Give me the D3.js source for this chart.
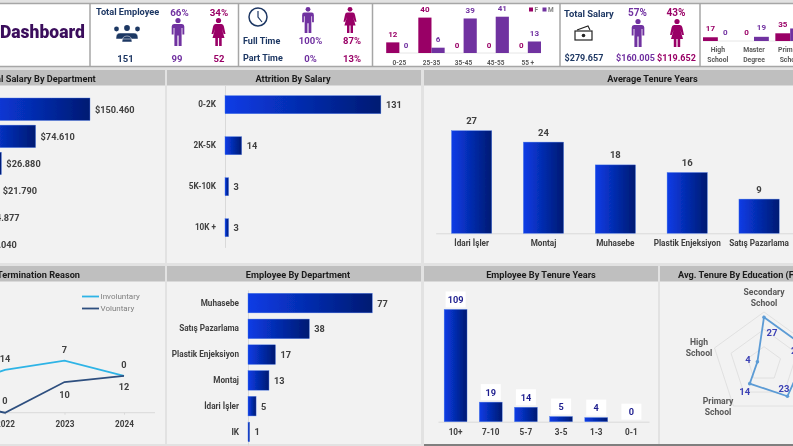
<!DOCTYPE html>
<html>
<head>
<meta charset="utf-8">
<script src="https://cdn.jsdelivr.net/npm/d3@7"></script>
<style>
  html, body { margin: 0; padding: 0; background: #e2e2e2; overflow: hidden; }
  svg { display: block; }
  text { font-family: Roboto, sans-serif; font-weight: 700; }
  .axis .domain { stroke: #d9d9d9; }
  .axis text { fill: #404040; font-size: 8.2px; font-family: Roboto, sans-serif; }
</style>
</head>
<body>
<svg id="grafico" width="793" height="446"></svg>
<script>
// Datos
const departamentosSalario = ["Muhasebe", "Satış Pazarlama", "Plastik Enjeksiyon", "Montaj", "İdari İşler", "IK"];
const salarioDepartamento = [150460, 74610, 26880, 21790, 4877, 1040];
const rangosSalario = ["0-2K", "2K-5K", "5K-10K", "10K +"];
const bajasSalario = [131, 14, 3, 3];
const departamentosTenure = ["İdari İşler", "Montaj", "Muhasebe", "Plastik Enjeksiyon", "Satış Pazarlama"];
const tenureMedio = [27, 24, 18, 16, 9];
const anos = ["2021", "2022", "2023", "2024"];
const voluntary = [4, 0, 10, 12];
const involuntary = [3, 14, 7, 0];
const departamentosEmpleados = ["Muhasebe", "Satış Pazarlama", "Plastik Enjeksiyon", "Montaj", "İdari İşler", "IK"];
const empleadosDepartamento = [77, 38, 17, 13, 5, 1];
const rangosTenure = ["10+", "7-10", "5-7", "3-5", "1-3", "0-1"];
const empleadosTenure = [109, 19, 14, 5, 4, 0];
const educacionRadar = ["Secondary School", "University", "Master Degree", "Primary School", "High School"];
const tenureEducacion = [27, 27, 23, 14, 4];
const rangosEdad = ["0-25", "25-35", "35-45", "45-55", "55 +"];
const edadF = [12, 40, 0, 0, 0];
const edadM = [0, 6, 39, 41, 13];
const educacion = ["High School", "Master Degree", "Primary School"];
const educacionF = [17, 0, 35];
const educacionM = [0, 19, 57];

const NAVY = "#1f3864", PURPLE = "#7030a0", MAGENTA = "#990066", GRIS = "#404040";
const svg = d3.select("#grafico");

// Degradado de las barras
const defs = svg.append("defs");
const grad = defs.append("linearGradient").attr("id", "azul");
grad.append("stop").attr("offset", "0%").attr("stop-color", "#0a3ce6");
grad.append("stop").attr("offset", "100%").attr("stop-color", "#001a72");
const blur = defs.append("filter").attr("id", "suave");
blur.append("feGaussianBlur").attr("stdDeviation", 0.35);

const raiz = svg.append("g").attr("filter", "url(#suave)");

function texto(g, x, y, t, color, size, anchor) {
    return g.append("text")
        .attr("x", x).attr("y", y)
        .attr("text-anchor", anchor || "middle")
        .attr("dominant-baseline", "central")
        .attr("fill", color)
        .style("font-size", size + "px")
        .text(t);
}

// Paneles
function panel(x, y, w, h, titulo, tx, anchor) {
    raiz.append("rect").attr("x", x).attr("y", y).attr("width", w).attr("height", h).attr("fill", "#f2f2f2");
    raiz.append("rect").attr("x", x).attr("y", y).attr("width", w).attr("height", 15.5).attr("fill", "#bfbfbf");
    texto(raiz, tx, y + 8, titulo, "#1a1a1a", 9.2, anchor);
}
raiz.append("rect").attr("width", 793).attr("height", 446).attr("fill", "#e2e2e2");
panel(-40, 70, 205, 193, "Total Salary By Department", 95.7, "end");
panel(167, 70, 254, 193, "Attrition By Salary", 293);
panel(424, 70, 372, 193, "Average Tenure Years", 652.5);
panel(-40, 266, 205, 178, "Attrition By Termination Reason", 80, "end");
panel(167, 266, 254, 178, "Employee By Department", 298);
panel(424, 266, 234, 178, "Employee By Tenure Years", 541);
panel(660, 266, 136, 178, "Avg. Tenure By Education (Female)", 678, "start");
raiz.append("rect").attr("x", 424).attr("y", 444).attr("width", 369).attr("height", 2).attr("fill", "#7f7f7f");

// Tarjetas superiores
raiz.append("rect").attr("x", -2).attr("y", 3.5).attr("width", 797).attr("height", 63)
    .attr("fill", "#fff").attr("stroke", "#a6a6a6").attr("stroke-width", 1.5);
[90, 238.5, 372.5, 560, 700].forEach(x => {
    raiz.append("line").attr("x1", x).attr("x2", x).attr("y1", 3.5).attr("y2", 66.5)
        .attr("stroke", "#a6a6a6").attr("stroke-width", 1.5);
});

// Iconos
function hombre(x, y, s, color) {
    const g = raiz.append("g").attr("transform", `translate(${x},${y}) scale(${s})`).attr("fill", color);
    g.append("circle").attr("cx", 0).attr("cy", -11.5).attr("r", 2.6);
    g.append("path").attr("d", "M-4-8H4Q6.3-8 6.3-5.5V2.5H4.4V-4H3.6V14H.6V3.5H-.6V14H-3.6V-4H-4.4V2.5H-6.3V-5.5Q-6.3-8-4-8Z");
}
function mujer(x, y, s, color) {
    const g = raiz.append("g").attr("transform", `translate(${x},${y}) scale(${s})`).attr("fill", color);
    g.append("circle").attr("cx", 0).attr("cy", -11.5).attr("r", 2.6);
    g.append("path").attr("d", "M-3-8H3Q5-8 5.4-5.5L7 2H5.2L3.4-3 6 6H3.2V14H.6V6H-.6V14H-3.2V6H-6L-3.4-3-5.2 2H-7L-5.4-5.5Q-5-8-3-8Z");
}
hombre(178, 32, 1, PURPLE);
mujer(218.5, 32, 1, MAGENTA);
hombre(308, 20, .93, PURPLE);
mujer(350, 20, .93, MAGENTA);
hombre(638, 33, 1, PURPLE);
mujer(677, 33, 1, MAGENTA);

// Icono de personas
[[127, 28, 3.6], [116.5, 29, 3], [137.5, 29, 3]].forEach(p => {
    raiz.append("circle").attr("cx", p[0]).attr("cy", p[1]).attr("r", p[2] * .8).attr("fill", NAVY);
});
raiz.append("path").attr("fill", NAVY).attr("d", "M116 38Q116 33 120 33H134Q138 33 138 38V39H116ZM122 42Q122 36 127 36T132 42Z").attr("stroke", "#fff").attr("stroke-width", .5);

// Icono del reloj
raiz.append("circle").attr("cx", 258).attr("cy", 17).attr("r", 9).attr("fill", "none").attr("stroke", NAVY).attr("stroke-width", 1.5);
raiz.append("path").attr("d", "M258 11V17L262 22").attr("fill", "none").attr("stroke", NAVY).attr("stroke-width", 1.2);

// Icono del dinero
raiz.append("rect").attr("x", 575).attr("y", 31).attr("width", 17).attr("height", 9).attr("fill", "#fff").attr("stroke", "#222").attr("stroke-width", 1.2);
raiz.append("circle").attr("cx", 583.5).attr("cy", 35.5).attr("r", 1.8).attr("fill", "#222");
raiz.append("path").attr("d", "M577 30L588 26L590 30").attr("fill", "none").attr("stroke", "#222").attr("stroke-width", 1.1);

// Textos de las tarjetas
texto(raiz, 0, 31.5, "Dashboard", "#3b0f5c", 17.5, "start").style("font-weight", 900);
texto(raiz, 96, 11.5, "Total Employee", NAVY, 9.2, "start");
texto(raiz, 179.5, 12, "66%", PURPLE, 9.8);
texto(raiz, 219, 12, "34%", MAGENTA, 9.8);
texto(raiz, 125.5, 58, "151", NAVY, 9.5);
texto(raiz, 177, 58, "99", PURPLE, 9.5);
texto(raiz, 219, 58, "52", MAGENTA, 9.5);
texto(raiz, 243, 41, "Full Time", NAVY, 9, "start");
texto(raiz, 243, 58, "Part Time", NAVY, 9, "start");
texto(raiz, 310.5, 40.5, "100%", PURPLE, 9.5);
texto(raiz, 352, 40.5, "87%", MAGENTA, 9.5);
texto(raiz, 310.5, 58.5, "0%", PURPLE, 9.5);
texto(raiz, 352, 58.5, "13%", MAGENTA, 9.5);
texto(raiz, 564, 13.5, "Total Salary", NAVY, 9.4, "start");
texto(raiz, 637.5, 12, "57%", PURPLE, 10);
texto(raiz, 676, 12, "43%", MAGENTA, 10);
texto(raiz, 584, 58, "$279.657", NAVY, 9);
texto(raiz, 635.5, 58, "$160.005", PURPLE, 9);
texto(raiz, 676.5, 58, "$119.652", MAGENTA, 9);

// Leyenda F / M
raiz.append("rect").attr("x", 529).attr("y", 7.5).attr("width", 4).attr("height", 4).attr("fill", MAGENTA);
texto(raiz, 534.5, 9.5, "F", "#808080", 6.5, "start");
raiz.append("rect").attr("x", 542.5).attr("y", 7.5).attr("width", 4).attr("height", 4).attr("fill", PURPLE);
texto(raiz, 548, 9.5, "M", "#808080", 6.5, "start");

// Columnas agrupadas de la tarjeta superior
function columnasDobles(cats, f, m, rango, base, esc, sep) {
    const x = d3.scaleBand().domain(cats).range(rango).paddingInner(.18);
    const g = raiz.append("g");
    const y = d3.scaleLinear().domain([0, 1]).range([base, base - esc]);
    g.append("line").attr("x1", rango[0]).attr("x2", rango[1]).attr("y1", base).attr("y2", base).attr("stroke", "#e6e6e6");
    [[f, MAGENTA, 0], [m, PURPLE, 1]].forEach(s => {
        const bw = x.bandwidth() / 2;
        s[0].forEach((v, i) => {
            const px = x(cats[i]) + s[2] * bw;
            g.append("rect").attr("x", px).attr("width", bw).attr("y", y(v)).attr("height", base - y(v)).attr("fill", s[1]);
            texto(g, px + bw / 2, y(v) - sep, v, s[1], 8);
        });
    });
    return x;
}
const xEdad = columnasDobles(rangosEdad, edadF, edadM, [386.2, 541], 53, .885, 8);
rangosEdad.forEach(c => texto(raiz, xEdad(c) + xEdad.bandwidth() / 2, 62.5, c, "#595959", 6.5));

const xEdu = columnasDobles(educacion, educacionF, educacionM, [703, 805], 41, .22, 9);
educacion.forEach(c => {
    const pal = c.split(" ");
    texto(raiz, xEdu(c) + xEdu.bandwidth() / 2, 50, pal[0], "#595959", 6.8);
    texto(raiz, xEdu(c) + xEdu.bandwidth() / 2, 59.5, pal[1], "#595959", 6.8);
});

// Barras horizontales
function barrasH(g, cats, vals, x0, esc, y0, y1, fmt, conEje, pi, po) {
    const y = d3.scaleBand().domain(cats).range([y0, y1]).paddingInner(pi).paddingOuter(po);
    const x = d3.scaleLinear().domain([0, 1]).range([x0, x0 + esc]);
    if (conEje) {
        g.append("g").attr("class", "axis").attr("transform", `translate(${x0},0)`)
            .call(d3.axisLeft(y).tickSize(0).tickPadding(9));
    }
    g.selectAll(null).data(vals).enter().append("rect")
        .attr("x", x0).attr("y", (d, i) => y(cats[i]))
        .attr("width", d => x(d) - x0).attr("height", y.bandwidth())
        .attr("fill", "url(#azul)").attr("stroke", "#4a78e8").attr("stroke-width", .4);
    vals.forEach((v, i) => {
        texto(g, x(v) + 5, y(cats[i]) + y.bandwidth() / 2, fmt(v), GRIS, 9.2, "start");
    });
}
const dolar = v => "$" + d3.format(",")(v).replace(/,/g, ".");
barrasH(raiz, departamentosSalario, salarioDepartamento, -17.9, .000717, 96, 258, dolar, false, .17, .074);
barrasH(raiz, rangosSalario, bajasSalario, 225, 1.19, 85, 247.4, d => d, true, .56, .26);
barrasH(raiz, departamentosEmpleados, empleadosDepartamento, 248, 1.614, 290, 445, d => d, true, .24, .128);

// Columnas
function columnas(cats, vals, rango, base, esc, padding, eje) {
    const x = d3.scaleBand().domain(cats).range(rango).paddingInner(padding).paddingOuter(padding / 2);
    const y = d3.scaleLinear().domain([0, 1]).range([base, base - esc]);
    raiz.append("g").attr("class", "axis").attr("transform", `translate(0,${base})`)
        .call(d3.axisBottom(x).tickSize(0).tickPadding(eje));
    const g = raiz.append("g");
    g.selectAll(null).data(vals).enter().append("rect")
        .attr("x", (d, i) => x(cats[i])).attr("width", x.bandwidth())
        .attr("y", d => y(d)).attr("height", d => base - y(d))
        .attr("fill", "url(#azul)").attr("stroke", "#4a78e8").attr("stroke-width", .4);
    return { x, y, g };
}
const media = columnas(departamentosTenure, tenureMedio, [435.7, 795], 233.3, 3.8, .44, 7);
tenureMedio.forEach((v, i) => {
    texto(media.g, media.x(departamentosTenure[i]) + media.x.bandwidth() / 2, media.y(v) - 10, v, GRIS, 9.5);
});
const ten = columnas(rangosTenure, empleadosTenure, [438, 649], 421.7, 1.03, .35, 7);
empleadosTenure.forEach((v, i) => {
    const cx = ten.x(rangosTenure[i]) + ten.x.bandwidth() / 2;
    const cy = ten.y(v) - 10;
    ten.g.append("rect").attr("x", cx - 10).attr("y", cy - 8).attr("width", 20).attr("height", 16).attr("fill", "#fff");
    texto(ten.g, cx, cy, v, "#1f1f8f", 9.2);
});

// Lineas apiladas
const xLin = d3.scalePoint().domain(anos).range([-54.5, 124]);
const yLin = d3.scaleLinear().domain([0, 17]).range([412.7, 360.6]);
raiz.append("g").attr("class", "axis").attr("transform", "translate(0,412.7)")
    .call(d3.axisBottom(xLin).tickSize(2).tickPadding(6))
    .call(g => g.select(".domain").attr("d", "M-60 0H155"))
    .call(g => g.selectAll("line").attr("stroke", "#d9d9d9"));
const apilado = involuntary.map((d, i) => d + voluntary[i]);
const linea = d3.line().x((d, i) => xLin(anos[i])).y(d => yLin(d));
raiz.append("path").attr("d", linea(apilado)).attr("fill", "none").attr("stroke", "#2fb4e6").attr("stroke-width", 1.8);
raiz.append("path").attr("d", linea(voluntary)).attr("fill", "none").attr("stroke", "#2e4f7f").attr("stroke-width", 1.8);
involuntary.forEach((v, i) => texto(raiz, xLin(anos[i]), yLin(apilado[i]) - 11.5, v, GRIS, 9.2));
voluntary.forEach((v, i) => {
    const dy = v === 0 ? -12.5 : (i === 3 ? 10.5 : 12.5);
    texto(raiz, xLin(anos[i]), yLin(v) + dy, v, GRIS, 9.2);
});
[["Involuntary", "#2fb4e6", 296.5], ["Voluntary", "#2e4f7f", 308.5]].forEach(l => {
    raiz.append("line").attr("x1", 82).attr("x2", 99).attr("y1", l[2]).attr("y2", l[2]).attr("stroke", l[1]).attr("stroke-width", 1.8);
    texto(raiz, 100.5, l[2], l[0], "#7f7f7f", 8, "start").style("font-weight", 400);
});

// Radar
const cx = 764, cy = 364;
const rRad = d3.scaleLinear().domain([0, 30]).range([0, 52]);
const ang = i => i * 2 * Math.PI / educacionRadar.length;
const radial = d3.lineRadial().angle((d, i) => ang(i)).radius(d => rRad(d)).curve(d3.curveLinearClosed);
const gRad = raiz.append("g").attr("transform", `translate(${cx},${cy})`);
[10, 20, 30].forEach(n => {
    gRad.append("path").attr("d", radial(educacionRadar.map(() => n))).attr("fill", "none").attr("stroke", "#dcdcdc").attr("stroke-width", .8);
});
gRad.append("path").attr("d", radial(tenureEducacion)).attr("fill", "none").attr("stroke", "#5b9bd5").attr("stroke-width", 1.8);
const etiquetasDx = [[8, 15], [-12, 1], [-3.5, -7.5], [-5, 8], [-9.5, -2.5]];
tenureEducacion.forEach((v, i) => {
    const px = rRad(v) * Math.sin(ang(i)), py = -rRad(v) * Math.cos(ang(i));
    gRad.append("circle").attr("cx", px).attr("cy", py).attr("r", 1.8).attr("fill", "#5b9bd5");
    texto(gRad, px + etiquetasDx[i][0], py + etiquetasDx[i][1], v, "#3a3fb5", 9.5);
});
const etiquetasPos = [[0, 0, -72], [1, 60, -20], [2, 50, 45], [3, -46, 37], [4, -65, -22]];
etiquetasPos.forEach(e => {
    educacionRadar[e[0]].split(" ").forEach((p, j) => {
        texto(gRad, e[1], e[2] + j * 11.3, p, "#595959", 8.6);
    });
});
</script>
</body>
</html>
